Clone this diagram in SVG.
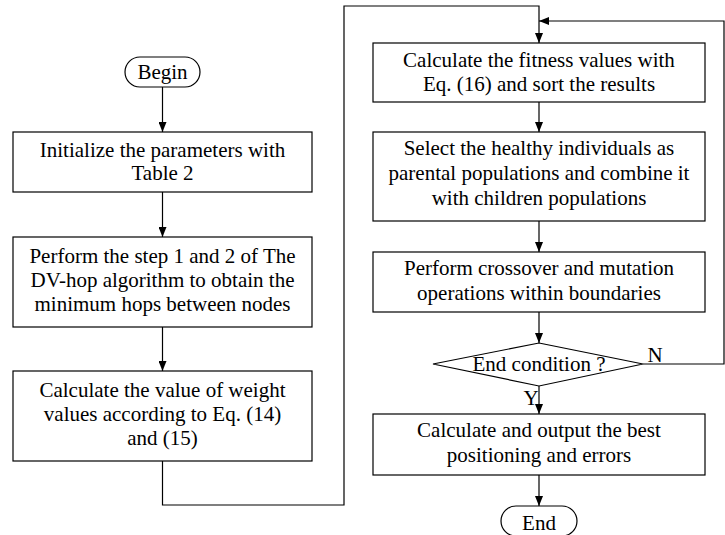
<svg xmlns="http://www.w3.org/2000/svg" width="725" height="535" viewBox="0 0 725 535">
<style>
.b{fill:#fff;stroke:#000;stroke-width:1.2}
.t{font-family:"Liberation Serif","Times New Roman",serif;font-size:21px;fill:#000;text-anchor:middle}
.c{fill:none;stroke:#000;stroke-width:1.2}
</style>
<defs>
<marker id="a" viewBox="0 0 10 8" refX="10" refY="4" markerWidth="10" markerHeight="8" markerUnits="userSpaceOnUse" orient="auto">
<path d="M0,0 L10,4 L0,8 Z" fill="#000"/>
</marker>
</defs>
<rect width="725" height="535" fill="#fff"/>
<g id="connectors">
<line class="c" x1="162.5" y1="87" x2="162.5" y2="132" marker-end="url(#a)"/>
<line class="c" x1="162.5" y1="192" x2="162.5" y2="237" marker-end="url(#a)"/>
<line class="c" x1="162.5" y1="327" x2="162.5" y2="371" marker-end="url(#a)"/>
<polyline class="c" points="162.5,461 162.5,505 344,505 344,6 539,6 539,43" marker-end="url(#a)"/>
<polyline class="c" points="643,364 724,364 724,21 539,21" marker-end="url(#a)"/>
<line class="c" x1="539" y1="102" x2="539" y2="132" marker-end="url(#a)"/>
<line class="c" x1="539" y1="221" x2="539" y2="252" marker-end="url(#a)"/>
<line class="c" x1="539" y1="312" x2="539" y2="343" marker-end="url(#a)"/>
<line class="c" x1="539" y1="386" x2="539" y2="414" marker-end="url(#a)"/>
<line class="c" x1="539" y1="475" x2="539" y2="506" marker-end="url(#a)"/>
<text class="t" x="655" y="362">N</text>
<text class="t" x="531" y="405">Y</text>
</g>
<g id="begin">
<rect class="b" x="125" y="57" width="75" height="30" rx="15"/>
<text class="t" x="162.5" y="79">Begin</text>
</g>
<g id="init">
<rect class="b" x="13" y="132" width="299" height="60"/>
<text class="t" x="162.5" y="157">Initialize the parameters with</text>
<text class="t" x="162.5" y="180">Table 2</text>
</g>
<g id="dvhop">
<rect class="b" x="13" y="237" width="299" height="90"/>
<text class="t" x="162.5" y="263">Perform the step 1 and 2 of The</text>
<text class="t" x="162.5" y="287">DV-hop algorithm to obtain the</text>
<text class="t" x="162.5" y="311">minimum hops between nodes</text>
</g>
<g id="weight">
<rect class="b" x="13" y="371" width="299" height="90"/>
<text class="t" x="162.5" y="397">Calculate the value of weight</text>
<text class="t" x="162.5" y="421">values according to Eq. (14)</text>
<text class="t" x="162.5" y="445">and (15)</text>
</g>
<g id="fitness">
<rect class="b" x="373" y="43" width="332" height="59"/>
<text class="t" x="539" y="67">Calculate the fitness values with</text>
<text class="t" x="539" y="91">Eq. (16) and sort the results</text>
</g>
<g id="select">
<rect class="b" x="373" y="132" width="332" height="89"/>
<text class="t" x="539" y="155">Select the healthy individuals as</text>
<text class="t" x="539" y="180">parental populations and combine it</text>
<text class="t" x="539" y="205">with children populations</text>
</g>
<g id="crossover">
<rect class="b" x="373" y="252" width="332" height="60"/>
<text class="t" x="539" y="275">Perform crossover and mutation</text>
<text class="t" x="539" y="300">operations within boundaries</text>
</g>
<g id="decision">
<polygon class="b" points="539,343 643,364 539,386 433,364"/>
<text class="t" x="539" y="371">End condition ?</text>
</g>
<g id="output">
<rect class="b" x="373" y="414" width="332" height="61"/>
<text class="t" x="539" y="437">Calculate and output the best</text>
<text class="t" x="539" y="462">positioning and errors</text>
</g>
<g id="end">
<rect class="b" x="501" y="506" width="76" height="30" rx="15"/>
<text class="t" x="539" y="530">End</text>
</g>
</svg>
